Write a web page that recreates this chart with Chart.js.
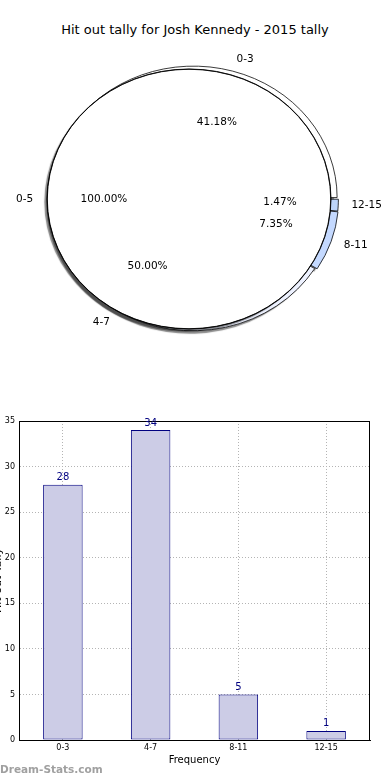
<!DOCTYPE html>
<html>
<head>
<meta charset="utf-8">
<script src="https://cdn.jsdelivr.net/npm/chart.js@4.4.1/dist/chart.umd.min.js"></script>
<style>
html, body { margin: 0; padding: 0; background: #fff; width: 390px; height: 780px; overflow: hidden; position: relative; font-family: "DejaVu Sans", sans-serif; }
#title { position: absolute; left: 0; top: 22px; width: 390px; text-align: center; font-size: 13px; color: #000; }
canvas { position: absolute; }
#pieShade, #pieBack, #pieFront { left: 0; top: 0; }
#barChart { left: -10px; top: 400px; }
#mark { position: absolute; left: 0; top: 763px; font-size: 10.5px; font-weight: bold; color: #a0a0a0; }
</style>
</head>
<body>
<div id="title">Hit out tally for Josh Kennedy - 2015 tally</div>
<canvas id="pieShade" width="390" height="380"></canvas>
<canvas id="pieBack" width="390" height="380"></canvas>
<canvas id="pieFront" width="390" height="380"></canvas>
<canvas id="barChart" width="400" height="380"></canvas>
<div id="mark">Dream-Stats.com</div>
<script>
// hit out buckets and how often each happened
var hitout_labels = ['0-3', '4-7', '8-11', '12-15']
var hitout_counts = [28, 34, 5, 1]

// the second pie on top, a single bucket covering everything
var total_labels = ['0-5']
var total_counts = [68]

// bar chart y axis
var y_min = 0
var y_max = 35
var y_step = 5

Chart.defaults.font.family = 'DejaVu Sans'
Chart.defaults.color = '#000'

// pie is drawn squashed into an ellipse, like the original
var KY = 130 / 142

// matplotlib draws counter clockwise from 3 o'clock, chart.js clockwise,
// so the slices go in reversed
var slice_colors = ['#ffffff', '#eef2ff', '#c4d9ff', '#bcd4fa']
var slice_offsets = [6, 2, 7, 5]

var squash = {
    id: 'squash',
    beforeDatasetsDraw: function(chart){
        var arc = chart.getDatasetMeta(0).data[0]
        var ctx = chart.ctx
        ctx.save()
        ctx.translate(0, arc.y)
        ctx.scale(1, KY)
        ctx.translate(0, -arc.y)
    },
    beforeDatasetDraw: function(chart, args){
        if (!chart.data.datasets[args.index].shadow) return
        var ctx = chart.ctx
        ctx.shadowColor = 'rgba(0,0,0,0.45)'
        ctx.shadowOffsetX = -3
        ctx.shadowOffsetY = 3
        ctx.shadowBlur = 1
    },
    afterDatasetDraw: function(chart){
        chart.ctx.shadowColor = 'rgba(0,0,0,0)'
    },
    afterDatasetsDraw: function(chart){
        chart.ctx.restore()
    }
}

function drawPieText(ctx, chart){
    var meta = chart.getDatasetMeta(0)
    var labels = chart.data.labels
    var values = chart.data.datasets[0].data
    var total = 0
    for (var i = 0; i < values.length; i++) total += values[i]
    ctx.save()
    ctx.font = '10.5px "DejaVu Sans"'
    ctx.fillStyle = '#000'
    ctx.textBaseline = 'middle'
    meta.data.forEach(function(arc, i){
        var mid = (arc.startAngle + arc.endAngle) / 2
        var off = (arc.options.offset || 0) / 4
        var r = chart.getDatasetMeta(chart.data.datasets.length - 1).controller.outerRadius
        var c = Math.cos(mid), s = Math.sin(mid)
        // outer label
        var lx = arc.x + c * (off + r * 1.1)
        var ly = arc.y + KY * s * (off + r * 1.1)
        ctx.textAlign = c > 0.001 ? 'left' : (c < -0.001 ? 'right' : 'center')
        ctx.fillText(labels[i], lx, ly)
        // percentage
        var px = arc.x + c * (off + r * 0.6)
        var py = arc.y + KY * s * (off + r * 0.6)
        ctx.textAlign = 'center'
        ctx.fillText((values[i] / total * 100).toFixed(2) + '%', px, py)
    })
    ctx.restore()
}

function slicePie(canvasId, withShadow){
    return new Chart(document.getElementById(canvasId), {
        type: 'pie',
        data: {
            labels: hitout_labels.slice().reverse(),
            datasets: [{
                data: hitout_counts.slice().reverse(),
                backgroundColor: slice_colors.slice().reverse(),
                borderColor: '#000',
                borderWidth: withShadow ? 0 : 0.8,
                offset: slice_offsets.slice().reverse(),
                shadow: withShadow,
                clip: false
            }]
        },
        options: {
            responsive: false,
            animation: false,
            rotation: 90,
            radius: 143,
            layout: { padding: { left: 4, right: 8, top: 18, bottom: 0 } },
            plugins: { legend: { display: false }, tooltip: { enabled: false } }
        },
        plugins: [squash]
    })
}

// shadow pass first (fill only), then the outlined slices over it
var pieShade = slicePie('pieShade', true)
var pieBack = slicePie('pieBack', false)

// the full circle: a hair-thin ring carries the outline (so no radial
// seam shows), the white disc under it is the fill
var pieFront = new Chart(document.getElementById('pieFront'), {
    type: 'pie',
    data: {
        labels: total_labels,
        datasets: [{
            data: total_counts,
            backgroundColor: 'rgba(255,255,255,0)',
            borderColor: '#000',
            borderWidth: 0.9,
            weight: 0.002,
            shadow: false,
            clip: false
        }, {
            data: total_counts,
            backgroundColor: '#ffffff',
            borderWidth: 0,
            weight: 1,
            shadow: true,
            clip: false
        }]
    },
    options: {
        responsive: false,
        animation: false,
        rotation: 90,
        radius: 142,
        layout: { padding: { left: 0, right: 12, top: 18, bottom: 0 } },
        plugins: { legend: { display: false }, tooltip: { enabled: false } }
    },
    plugins: [squash, {
        id: 'pieText',
        afterDraw: function(chart){
            drawPieText(chart.ctx, pieBack)
            drawPieText(chart.ctx, chart)
        }
    }]
})

var frame = {
    id: 'frame',
    afterDraw: function(chart){
        var a = chart.chartArea
        var ctx = chart.ctx
        ctx.save()
        ctx.strokeStyle = '#000'
        ctx.lineWidth = 1
        ctx.strokeRect(Math.round(a.left) + 0.5, Math.round(a.top) + 0.5,
            Math.round(a.right - a.left) - 1, Math.round(a.bottom - a.top))
        ctx.restore()
    }
}

var barValues = {
    id: 'barValues',
    afterDraw: function(chart){
        var ctx = chart.ctx
        var meta = chart.getDatasetMeta(0)
        ctx.save()
        ctx.font = '10px "DejaVu Sans"'
        ctx.fillStyle = '#000080'
        ctx.textAlign = 'center'
        ctx.textBaseline = 'bottom'
        meta.data.forEach(function(bar, i){
            ctx.fillText(String(hitout_counts[i]), bar.x, bar.y - 2)
        })
        ctx.restore()
    }
}

var gridLook = { offset: false, color: '#b4b4b4', lineWidth: 1, drawTicks: false }

var barChart = new Chart(document.getElementById('barChart'), {
    type: 'bar',
    data: {
        labels: hitout_labels,
        datasets: [{
            data: hitout_counts,
            backgroundColor: '#ccccE6',
            borderColor: '#000080',
            borderWidth: 1,
            borderSkipped: false,
            barPercentage: 0.45,
            categoryPercentage: 1
        }]
    },
    options: {
        responsive: false,
        animation: false,
        layout: { padding: { left: 0, right: 20, top: 21, bottom: 0 } },
        plugins: { legend: { display: false }, tooltip: { enabled: false } },
        scales: {
            x: {
                z: 1,
                grid: gridLook,
                border: { display: true, color: '#000', dash: [1, 2] },
                ticks: { font: { size: 8 }, color: '#000', padding: 3, maxRotation: 0 },
                title: { display: true, text: 'Frequency', font: { size: 10 }, color: '#000', padding: { top: 0, bottom: 14 } },
                afterFit: function(scale){ scale.height = 40 }
            },
            y: {
                z: 1,
                min: y_min,
                max: y_max,
                grid: gridLook,
                border: { display: true, color: '#000', dash: [1, 2] },
                ticks: { stepSize: y_step, font: { size: 8 }, color: '#000', padding: 4 },
                title: { display: true, text: 'Hit out Tally', font: { size: 11 }, color: '#000', padding: { top: 2, bottom: 0 } },
                afterFit: function(scale){ scale.width = 29 }
            }
        }
    },
    plugins: [frame, barValues]
})
</script>
</body>
</html>
